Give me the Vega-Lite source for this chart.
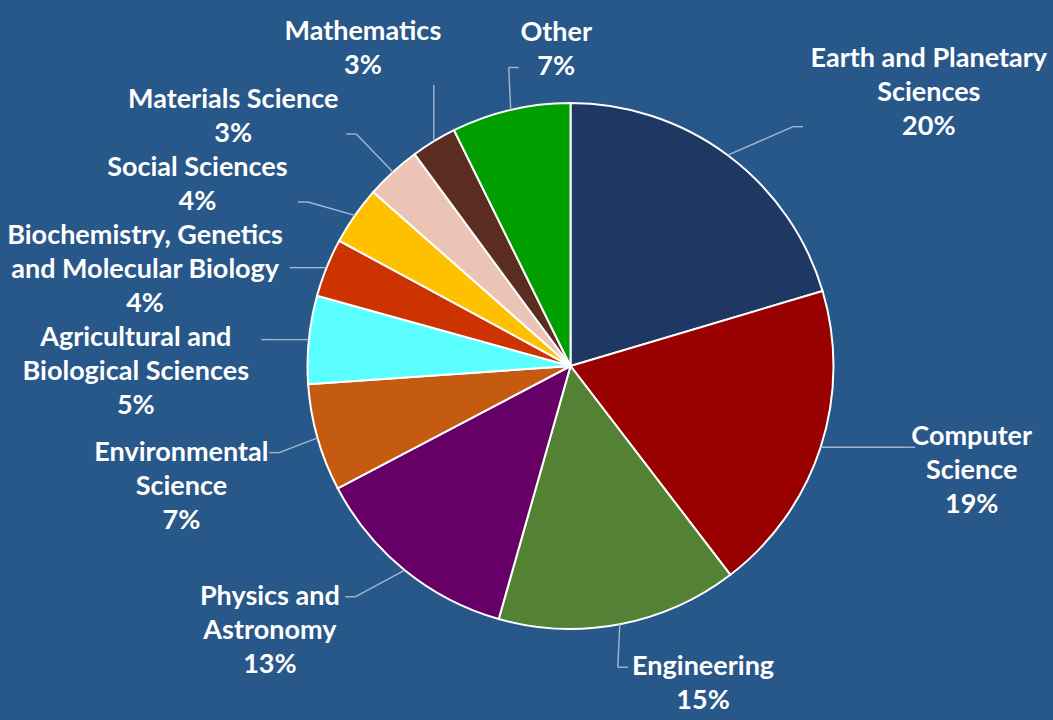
{
  "$schema": "https://vega.github.io/schema/vega-lite/v6.json",
  "width": 965,
  "height": 708,
  "autosize": "none",
  "padding": {"left": 88, "top": 12, "right": 0, "bottom": 0},
  "background": "#28578A",
  "view": {"stroke": null},
  "data": {
    "values": [
      {"order": 1, "name": "Earth and Planetary\nSciences", "value": 20.4},
      {"order": 2, "name": "Computer\nScience", "value": 19.2},
      {"order": 3, "name": "Engineering", "value": 14.8},
      {"order": 4, "name": "Physics and\nAstronomy", "value": 12.9},
      {"order": 5, "name": "Environmental\nScience", "value": 6.6},
      {"order": 6, "name": "Agricultural and\nBiological Sciences", "value": 5.4},
      {"order": 7, "name": "Biochemistry, Genetics\nand Molecular Biology", "value": 3.6},
      {"order": 8, "name": "Social Sciences", "value": 3.6},
      {"order": 9, "name": "Materials Science", "value": 3.4},
      {"order": 10, "name": "Mathematics", "value": 2.8},
      {"order": 11, "name": "Other", "value": 7.3}
    ]
  },
  "transform": [
    {"joinaggregate": [{"op": "sum", "field": "value", "as": "total"}]},
    {"window": [{"op": "sum", "field": "value", "as": "cum"}], "sort": [{"field": "order"}], "frame": [null, 0]},
    {"calculate": "2*PI*(datum.cum - datum.value/2)/datum.total", "as": "a"},
    {"calculate": "datum.name + '\\n' + format(datum.value/datum.total, '.0%')", "as": "text"},
    {"calculate": "split(datum.text, '\\n')", "as": "lines"},
    {"calculate": "length(datum.lines)*34", "as": "h"},
    {"calculate": "12.6*max(length(datum.lines[0]), length(datum.lines[1] || ''), length(datum.lines[2] || ''))", "as": "w"},
    {"calculate": "sin(datum.a)", "as": "s"},
    {"calculate": "cos(datum.a)", "as": "c"},
    {"calculate": "-(290 + datum.h/2)*datum.c - datum.h/2", "as": "top0"},
    {"calculate": "datum.s < -0.3 ? 'L' : (datum.s > 0.3 ? 'R' : datum.name)", "as": "side"},
    {"window": [{"op": "sum", "field": "h", "as": "hc"}], "groupby": ["side"], "sort": [{"field": "top0"}], "frame": [null, 0]},
    {"calculate": "datum.top0 - (datum.hc - datum.h)", "as": "z"},
    {"window": [{"op": "max", "field": "z", "as": "zu"}], "groupby": ["side"], "sort": [{"field": "top0"}], "frame": [null, 0]},
    {"window": [{"op": "min", "field": "z", "as": "zd"}], "groupby": ["side"], "sort": [{"field": "top0"}], "frame": [0, null]},
    {"calculate": "datum.hc - datum.h + (datum.zu + datum.zd)/2", "as": "top"},
    {"calculate": "datum.top + 17", "as": "ty"},
    {"calculate": "clamp(0, datum.top, datum.top + datum.h)", "as": "yn"},
    {"calculate": "datum.side == 'L' ? 315 : 355", "as": "rr"},
    {"calculate": "sqrt(max(datum.rr*datum.rr - datum.yn*datum.yn, 0))", "as": "xe"},
    {"calculate": "263*datum.s", "as": "ex"},
    {"calculate": "-263*datum.c", "as": "ey"},
    {"calculate": "datum.side == 'L' ? -(datum.xe + datum.w/2) : (datum.side == 'R' ? datum.xe + datum.w/2 : datum.ex + datum.w/2 + 14)", "as": "cx0"},
    {"calculate": "clamp(datum.cx0, -564 + datum.w/2, 478 - datum.w/2)", "as": "cx"},
    {"calculate": "clamp(datum.ex, datum.cx - datum.w/2 - 6, datum.cx + datum.w/2 + 6)", "as": "ax"},
    {"calculate": "datum.ax != datum.ex", "as": "sideAttach"},
    {"calculate": "datum.sideAttach ? clamp(datum.ey, datum.top + 17, datum.top + datum.h - 17) : clamp(datum.ey, datum.top - 2, datum.top + datum.h + 2)", "as": "ay"},
    {"calculate": "datum.sideAttach ? datum.ax + (datum.ex > datum.ax ? 10 : -10) : datum.ax", "as": "bx"}
  ],
  "layer": [
    {
      "mark": {"type": "arc", "outerRadius": 263, "stroke": "white", "strokeWidth": 2},
      "encoding": {
        "theta": {"field": "value", "type": "quantitative", "stack": true},
        "order": {"field": "order", "type": "quantitative"},
        "color": {
          "field": "order",
          "type": "nominal",
          "scale": {
            "domain": [1, 2, 3, 4, 5, 6, 7, 8, 9, 10, 11],
            "range": ["#1F3763", "#990000", "#548235", "#660066", "#C55A11", "#5CFFFF", "#CC3300", "#FFC000", "#EBC4B6", "#5B2C20", "#009E00"]
          },
          "legend": null
        }
      }
    },
    {
      "mark": {"type": "rule", "stroke": "#A3B8CE", "strokeWidth": 1.4},
      "encoding": {
        "x": {"field": "ex", "type": "quantitative", "scale": {"domain": [-482.5, 482.5], "nice": false, "zero": false}, "axis": null},
        "y": {"field": "ey", "type": "quantitative", "scale": {"domain": [-354, 354], "reverse": true, "nice": false, "zero": false}, "axis": null},
        "x2": {"field": "bx"},
        "y2": {"field": "ay"}
      }
    },
    {
      "mark": {"type": "rule", "stroke": "#A3B8CE", "strokeWidth": 1.4},
      "encoding": {
        "x": {"field": "bx", "type": "quantitative", "scale": {"domain": [-482.5, 482.5], "nice": false, "zero": false}, "axis": null},
        "y": {"field": "ay", "type": "quantitative", "scale": {"domain": [-354, 354], "reverse": true, "nice": false, "zero": false}, "axis": null},
        "x2": {"field": "ax"},
        "y2": {"field": "ay"}
      }
    },
    {
      "mark": {"type": "text", "font": "Lato", "fontWeight": "bold", "fontSize": 27, "fill": "white", "align": "center", "baseline": "middle", "lineHeight": 34, "lineBreak": "\n"},
      "encoding": {
        "x": {"field": "cx", "type": "quantitative", "scale": {"domain": [-482.5, 482.5], "nice": false, "zero": false}, "axis": null},
        "y": {"field": "ty", "type": "quantitative", "scale": {"domain": [-354, 354], "reverse": true, "nice": false, "zero": false}, "axis": null},
        "text": {"field": "text"}
      }
    }
  ]
}
